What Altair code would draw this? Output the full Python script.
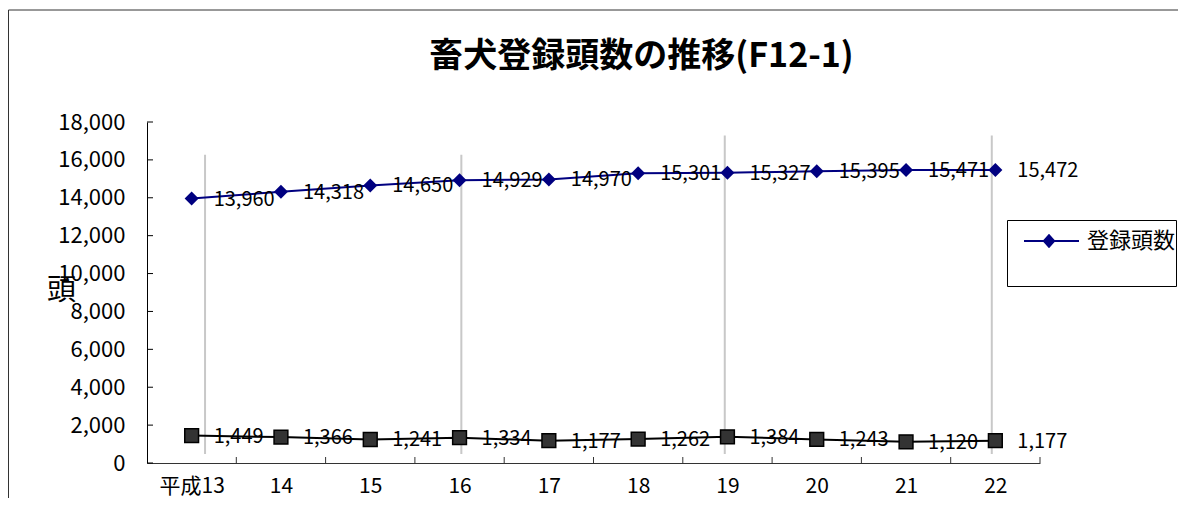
import json
import altair as alt
import pandas as pd

# ---- data ----
years = ["平成13", "14", "15", "16", "17", "18", "19", "20", "21", "22"]
registered = [13960, 14318, 14650, 14929, 14970, 15301, 15327, 15395, 15471, 15472]
other = [1449, 1366, 1241, 1334, 1177, 1262, 1384, 1243, 1120, 1177]
series_name = "登録頭数"
y_ticks = [0, 2000, 4000, 6000, 8000, 10000, 12000, 14000, 16000, 18000]
# grey vertical guide lines (category position, top and bottom values)
guide_pos = [0.65, 3.52, 6.47, 9.46]
guide_top = [16270, 16270, 17290, 17290]
guide_bottom = [480, 480, 480, 480]

FONT = "Noto Sans CJK JP"
W, H = 893, 341
NAVY = "#000080"

pos = [i + 0.5 for i in range(len(years))]
top_df = pd.DataFrame({"pos": pos, "value": registered, "series": [series_name] * len(years)})
bot_df = pd.DataFrame({"pos": pos, "value": other})
guide_df = pd.DataFrame({"pos": guide_pos, "value": guide_top, "value2": guide_bottom})
xtick_df = pd.DataFrame({"pos": [float(i + 1) for i in range(len(years))]})
ytick_df = pd.DataFrame({"value": y_ticks})
one_df = pd.DataFrame({"a": [0]})

xscale = alt.Scale(domain=[0, len(years)], nice=False, zero=False)
yscale = alt.Scale(domain=[0, 18000], nice=False)

label_expr = json.dumps(years, ensure_ascii=False) + "[floor(datum.value)]"
xaxis = alt.Axis(
    title=None, values=pos, labelExpr=label_expr, ticks=False, grid=False,
    domainColor="#333333", labelFontSize=21, labelPadding=12, labelColor="black",
    labelFont=FONT,
)
yaxis = alt.Axis(
    title="頭", titleAngle=0, titleFontSize=29, titleFontWeight="normal",
    titleX=-86, titleY=168, titleAlign="center", titleBaseline="middle",
    titleFont=FONT, titleColor="black",
    values=y_ticks, format=",d", ticks=False, grid=False, domainColor="black",
    labelFontSize=22, labelPadding=22, labelColor="black", labelFont=FONT,
)

X = alt.X("pos:Q", scale=xscale, axis=xaxis)
Y = alt.Y("value:Q", scale=yscale, axis=yaxis)

# outer frame of the chart and the legend box (decoration, pixel positions)
border = alt.Chart(one_df).mark_rect(fill="white", fillOpacity=0, stroke="#333333", strokeWidth=1).encode(
    x=alt.value(-138.5), x2=alt.value(1300), y=alt.value(-112), y2=alt.value(700)
)
legend_box = alt.Chart(one_df).mark_rect(fill="white", stroke="black", strokeWidth=1).encode(
    x=alt.value(860.5), x2=alt.value(1029.5), y=alt.value(98.5), y2=alt.value(164.5)
)

guides = alt.Chart(guide_df).mark_rule(color="#c8c8c8", strokeWidth=2).encode(
    x=X, y=Y, y2="value2:Q"
)

xticks = alt.Chart(xtick_df).mark_rule(color="#333333", strokeWidth=1).encode(
    x=X, y=alt.value(H), y2=alt.value(H - 6)
)
yticks = alt.Chart(ytick_df).mark_rule(color="black", strokeWidth=1).encode(
    y=Y, x=alt.value(0), x2=alt.value(6)
)

# legend symbol: a line with a diamond on it (units of 10 px)
legend_path = "M-0.4,-0.1H5.1V0.1H-0.4Z M2.1,-0.72L2.75,0L2.1,0.72L1.45,0Z"

top_line = alt.Chart(top_df).mark_line(color=NAVY, strokeWidth=2).encode(x=X, y=Y)
top_pts = alt.Chart(top_df).mark_point(filled=True, shape="diamond", size=196, opacity=1).encode(
    x=X, y=Y,
    color=alt.Color(
        "series:N",
        scale=alt.Scale(domain=[series_name], range=[NAVY]),
        legend=alt.Legend(
            title=None, orient="none", legendX=860, legendY=98, padding=10,
            labelFontSize=22, labelFont=FONT, labelColor="black", labelOffset=48,
            symbolType=legend_path, symbolSize=400, symbolOpacity=1,
        ),
    ),
)
top_text = alt.Chart(top_df).mark_text(
    align="left", baseline="middle", dx=22, dy=1, fontSize=20, font=FONT, color="black"
).encode(x=X, y=Y, text=alt.Text("value:Q", format=","))

bot_line = alt.Chart(bot_df).mark_line(color="black", strokeWidth=2).encode(x=X, y=Y)
bot_pts = alt.Chart(bot_df).mark_point(
    filled=True, shape="square", size=190, fill="#333333", stroke="black", strokeWidth=1.5, opacity=1
).encode(x=X, y=Y)
bot_text = alt.Chart(bot_df).mark_text(
    align="left", baseline="middle", dx=22, dy=1, fontSize=20, font=FONT, color="black"
).encode(x=X, y=Y, text=alt.Text("value:Q", format=","))

chart = alt.layer(
    border, legend_box, guides, xticks, yticks, top_line, bot_line, top_pts, bot_pts, top_text, bot_text
).properties(
    width=W, height=H,
    title=alt.TitleParams(
        text="畜犬登録頭数の推移(F12-1)", fontSize=34, fontWeight="bold", font=FONT,
        anchor="middle", frame="group", offset=-91.5, baseline="alphabetic", dx=48, color="black",
    ),
    autosize=alt.AutoSizeParams(type="none"),
    padding={"left": 139, "top": 114, "right": 138, "bottom": 35},
).configure(font=FONT, background="white").configure_view(strokeWidth=0)

chart.save("out.html", embed_options={"renderer": "svg", "actions": False})
